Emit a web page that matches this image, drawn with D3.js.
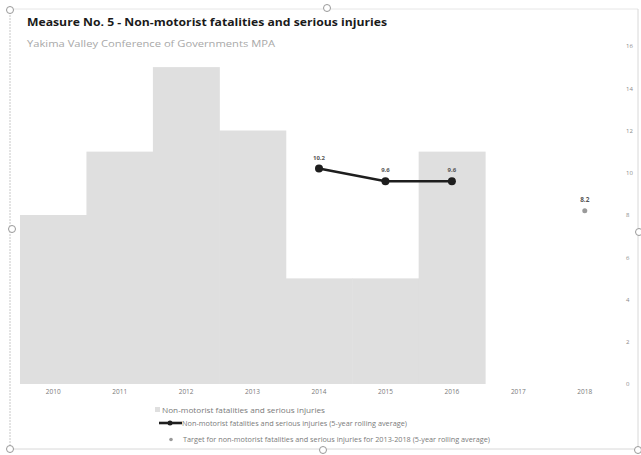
<!DOCTYPE html>
<html><head><meta charset="utf-8">
<script src="https://cdn.jsdelivr.net/npm/d3@7"></script>
<style>body{margin:0;background:#fff}svg{display:block}</style>
</head><body>
<svg id="c" width="641" height="455"></svg>
<script>
const years = ["2010","2011","2012","2013","2014","2015","2016","2017","2018"];
const barYears = ["2010","2011","2012","2013","2014","2015","2016"];
const barValues = [8, 11, 15, 12, 5, 5, 11];
const avgYears = ["2014","2015","2016"];
const avgValues = [10.2, 9.6, 9.6];
const targetYears = ["2018"];
const targetValues = [8.2];
const yTicks = [0,2,4,6,8,10,12,14,16];
const legendLabels = [
  "Non-motorist fatalities and serious injuries",
  "Non-motorist fatalities and serious injuries (5-year rolling average)",
  "Target for non-motorist fatalities and serious injuries for 2013-2018 (5-year rolling average)"
];

const svg = d3.select("#c");
const font = "'Open Sans', 'Noto Sans', sans-serif";

// frame with selection handles
const fr = svg.append("g").attr("fill","none").attr("stroke","#c8c8c8").attr("stroke-width",1);
fr.append("line").attr("x1",10).attr("y1",9).attr("x2",10).attr("y2",449).attr("stroke-dasharray","2,1");
fr.append("line").attr("x1",10).attr("y1",9).attr("x2",638).attr("y2",9).attr("stroke","#e6e6e6");
fr.append("line").attr("x1",10).attr("y1",449).attr("x2",638).attr("y2",449).attr("stroke","#d8d8d8");
fr.append("line").attr("x1",638).attr("y1",9).attr("x2",638).attr("y2",449).attr("stroke","#d8d8d8");
[[10,10],[327,8],[12,229],[10,449],[323,450],[638,450],[639,232]].forEach(p=>{
  svg.append("circle").attr("cx",p[0]).attr("cy",p[1]).attr("r",3.5)
    .attr("fill","#fff").attr("stroke","#999").attr("stroke-width",1);
});

const x = d3.scaleBand().domain(years).range([20,618]).padding(0);
const y = d3.scaleLinear().domain([0,16]).range([384,46]);

// bars
svg.append("g").selectAll("rect").data(barYears.map((d,i)=>({year:d,v:barValues[i]})))
  .join("rect")
  .attr("x",d=>x(d.year)).attr("width",x.bandwidth()+0.5)
  .attr("y",d=>y(d.v)).attr("height",d=>y(0)-y(d.v))
  .attr("fill","#dfdfdf");

// right axis
const ya = d3.axisRight(y).tickValues(yTicks).tickSize(0).tickPadding(0);
const yg = svg.append("g").attr("transform","translate(626,0)").call(ya);
yg.select(".domain").remove();
yg.selectAll("text").attr("fill","#8a8a8a").style("font-family",font).style("font-size","6px");

// x axis
const xa = d3.axisBottom(x).tickSize(0).tickPadding(0);
const xg = svg.append("g").attr("transform","translate(0,389)").call(xa);
xg.select(".domain").remove();
xg.selectAll("text").attr("fill","#7a7a7a").style("font-family",font).style("font-size","6.5px");

// rolling average line
const avg = avgYears.map((d,i)=>({year:d,v:avgValues[i]}));
const line = d3.line().x(d=>x(d.year)+x.bandwidth()/2).y(d=>y(d.v));
svg.append("path").datum(avg).attr("d",line).attr("fill","none")
  .attr("stroke","#1e1e1e").attr("stroke-width",2.6);
svg.append("g").selectAll("circle").data(avg).join("circle")
  .attr("cx",d=>x(d.year)+x.bandwidth()/2).attr("cy",d=>y(d.v)).attr("r",4)
  .attr("fill","#1e1e1e");
svg.append("g").selectAll("text").data(avg).join("text")
  .attr("x",d=>x(d.year)+x.bandwidth()/2).attr("y",d=>y(d.v)-9)
  .attr("text-anchor","middle").attr("fill","#555")
  .style("font-family",font).style("font-size","6px").style("font-weight","bold")
  .text(d=>d.v.toFixed(1));

// target
const tgt = targetYears.map((d,i)=>({year:d,v:targetValues[i]}));
svg.append("g").selectAll("circle").data(tgt).join("circle")
  .attr("cx",d=>x(d.year)+x.bandwidth()/2).attr("cy",d=>y(d.v)).attr("r",2.5)
  .attr("fill","#9a9a9a");
svg.append("g").selectAll("text").data(tgt).join("text")
  .attr("x",d=>x(d.year)+x.bandwidth()/2).attr("y",d=>y(d.v)-9)
  .attr("text-anchor","middle").attr("fill","#555")
  .style("font-family",font).style("font-size","6.5px").style("font-weight","bold")
  .text(d=>d.v.toFixed(1));

// title
svg.append("text").attr("x",27).attr("y",26).attr("fill","#1a1a1a")
  .attr("textLength",360).attr("lengthAdjust","spacingAndGlyphs")
  .style("font-family",font).style("font-size","11px").style("font-weight","bold")
  .text("Measure No. 5 - Non-motorist fatalities and serious injuries");
svg.append("text").attr("x",27).attr("y",47).attr("fill","#a8a8a8")
  .attr("textLength",248).attr("lengthAdjust","spacingAndGlyphs")
  .style("font-family",font).style("font-size","9px")
  .text("Yakima Valley Conference of Governments MPA");

// legend
const lg = svg.append("g").style("font-family",font).style("font-size","7px").attr("fill","#7a7a7a");
lg.append("rect").attr("x",155).attr("y",407).attr("width",5).attr("height",5).attr("fill","#dfdfdf");
lg.append("text").attr("x",162).attr("y",412.5).attr("textLength",163).attr("lengthAdjust","spacingAndGlyphs").text(legendLabels[0]);
lg.append("line").attr("x1",159).attr("y1",423).attr("x2",182).attr("y2",423)
  .attr("stroke","#1e1e1e").attr("stroke-width",2.6);
lg.append("circle").attr("cx",170).attr("cy",423).attr("r",2.5).attr("fill","#1e1e1e");
lg.append("text").attr("x",182).attr("y",425.5).attr("textLength",225).attr("lengthAdjust","spacingAndGlyphs").text(legendLabels[1]);
lg.append("circle").attr("cx",171).attr("cy",439.5).attr("r",1.8).attr("fill","#9a9a9a");
lg.append("text").attr("x",183).attr("y",442).attr("textLength",307).attr("lengthAdjust","spacingAndGlyphs").text(legendLabels[2]);
</script>
</body></html>
